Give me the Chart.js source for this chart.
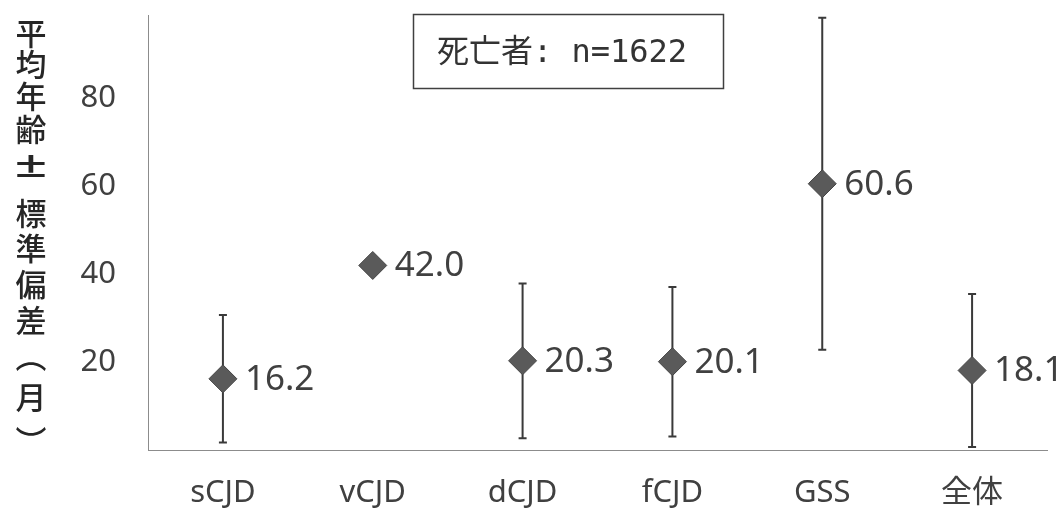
<!DOCTYPE html>
<html>
<head>
<meta charset="utf-8">
<script src="https://cdn.jsdelivr.net/npm/chart.js@4/dist/chart.umd.min.js"></script>
<style>
  html, body { margin: 0; padding: 0; background: #ffffff; }
  #wrap { width: 1062px; height: 511px; }
</style>
</head>
<body>
<div id="wrap"><canvas id="c" width="1062" height="511"></canvas></div>
<script>
// Mean age at death (months) with ±1 SD, by CJD type
const categories = ['sCJD', 'vCJD', 'dCJD', 'fCJD', 'GSS', '全体'];
const meanMonths = [16.2, 42.0, 20.3, 20.1, 60.6, 18.1];
const sdMonths = [14.5, null, 17.6, 17.0, 37.8, 17.4];
const yTickValues = [20, 40, 60, 80];
const yTitle = '平均年齢±標準偏差（月）';
const noteText = '死亡者: n=1622';

const LATIN = '"Noto Sans", "Noto Sans CJK JP", sans-serif';
const CJK = '"Noto Sans CJK JP", "Noto Sans", sans-serif';
const NOTE = '"DejaVu Sans Mono", "Noto Sans CJK JP", monospace';

// vertical ±SD whiskers, drawn under the markers
const errorBars = {
  id: 'errorBars',
  beforeDatasetsDraw(chart) {
    const { ctx, scales: { x, y } } = chart;
    ctx.save();
    ctx.strokeStyle = '#3a3a3a';
    ctx.lineWidth = 2;
    meanMonths.forEach((m, i) => {
      const sd = sdMonths[i];
      if (sd == null) return;
      const px = x.getPixelForValue(i);
      const top = y.getPixelForValue(m + sd);
      const bot = y.getPixelForValue(m - sd);
      ctx.beginPath();
      ctx.moveTo(px, top); ctx.lineTo(px, bot);
      ctx.moveTo(px - 4, top); ctx.lineTo(px + 4, top);
      ctx.moveTo(px - 4, bot); ctx.lineTo(px + 4, bot);
      ctx.stroke();
    });
    ctx.restore();
  }
};

// value printed to the right of each marker
const valueLabels = {
  id: 'valueLabels',
  afterDatasetsDraw(chart) {
    const { ctx } = chart;
    const meta = chart.getDatasetMeta(0);
    ctx.save();
    ctx.font = '35px ' + LATIN;
    ctx.fillStyle = '#404040';
    ctx.textAlign = 'left';
    ctx.textBaseline = 'middle';
    meta.data.forEach((pt, i) => {
      ctx.fillText(meanMonths[i].toFixed(1), pt.x + 22, pt.y + 1);
    });
    ctx.restore();
  }
};

// boxed note and stacked vertical axis title
const decorations = {
  id: 'decorations',
  afterDraw(chart) {
    const { ctx } = chart;
    ctx.save();
    // note box
    ctx.strokeStyle = '#404040';
    ctx.lineWidth = 1.5;
    ctx.strokeRect(413.5, 14.5, 310, 74);
    ctx.font = '32px ' + NOTE;
    ctx.fillStyle = '#333333';
    ctx.textAlign = 'center';
    ctx.textBaseline = 'middle';
    ctx.fillText(noteText, 562, 54);

    // vertical title: one glyph per line, brackets in vertical form
    const glyphs = Array.from(yTitle).map(c => c === '（' ? '︵' : c === '）' ? '︶' : c);
    const centres = [33, 64, 96, 129, 167, 213, 248, 284, 320, 356, 397, 441];
    ctx.font = '500 31px ' + CJK;
    ctx.fillStyle = '#262626';
    glyphs.forEach((g, i) => {
      if (g === '±') {
        // full-width plus-minus
        ctx.save();
        ctx.translate(31, centres[i]);
        ctx.scale(1.6, 1);
        ctx.font = '500 36px ' + LATIN;
        ctx.fillText(g, 0, 0);
        ctx.restore();
      } else {
        ctx.fillText(g, 31, centres[i]);
      }
    });
    ctx.restore();
  }
};

new Chart(document.getElementById('c'), {
  type: 'line',
  data: {
    labels: categories,
    datasets: [{
      data: meanMonths,
      showLine: false,
      pointStyle: 'rectRot',
      pointRadius: 14,
      pointHoverRadius: 14,
      pointBackgroundColor: '#5a5a5a',
      pointBorderColor: '#454545',
      pointBorderWidth: 1
    }]
  },
  options: {
    responsive: false,
    animation: false,
    events: [],
    layout: { padding: { top: 13, right: 12, left: 0, bottom: 0 } },
    plugins: {
      legend: { display: false },
      tooltip: { enabled: false }
    },
    scales: {
      x: {
        type: 'category',
        offset: true,
        grid: { display: false, drawTicks: false },
        border: { display: true, color: '#8c8c8c', width: 1 },
        ticks: {
          font: { family: LATIN, size: 31 },
          color: '#404040',
          padding: 25
        },
        afterFit(s) { s.height = 61; s.paddingLeft = 0; s.paddingRight = 0; }
      },
      y: {
        min: 0,
        max: 99,
        grid: { display: false, drawTicks: false },
        border: { display: true, color: '#8c8c8c', width: 1 },
        afterBuildTicks(s) { s.ticks = yTickValues.map(v => ({ value: v })); },
        ticks: {
          font: { family: LATIN, size: 31 },
          color: '#404040',
          padding: 32
        },
        afterFit(s) { s.width = 148; s.paddingTop = 0; s.paddingBottom = 0; }
      }
    }
  },
  plugins: [errorBars, valueLabels, decorations]
});
</script>
</body>
</html>
